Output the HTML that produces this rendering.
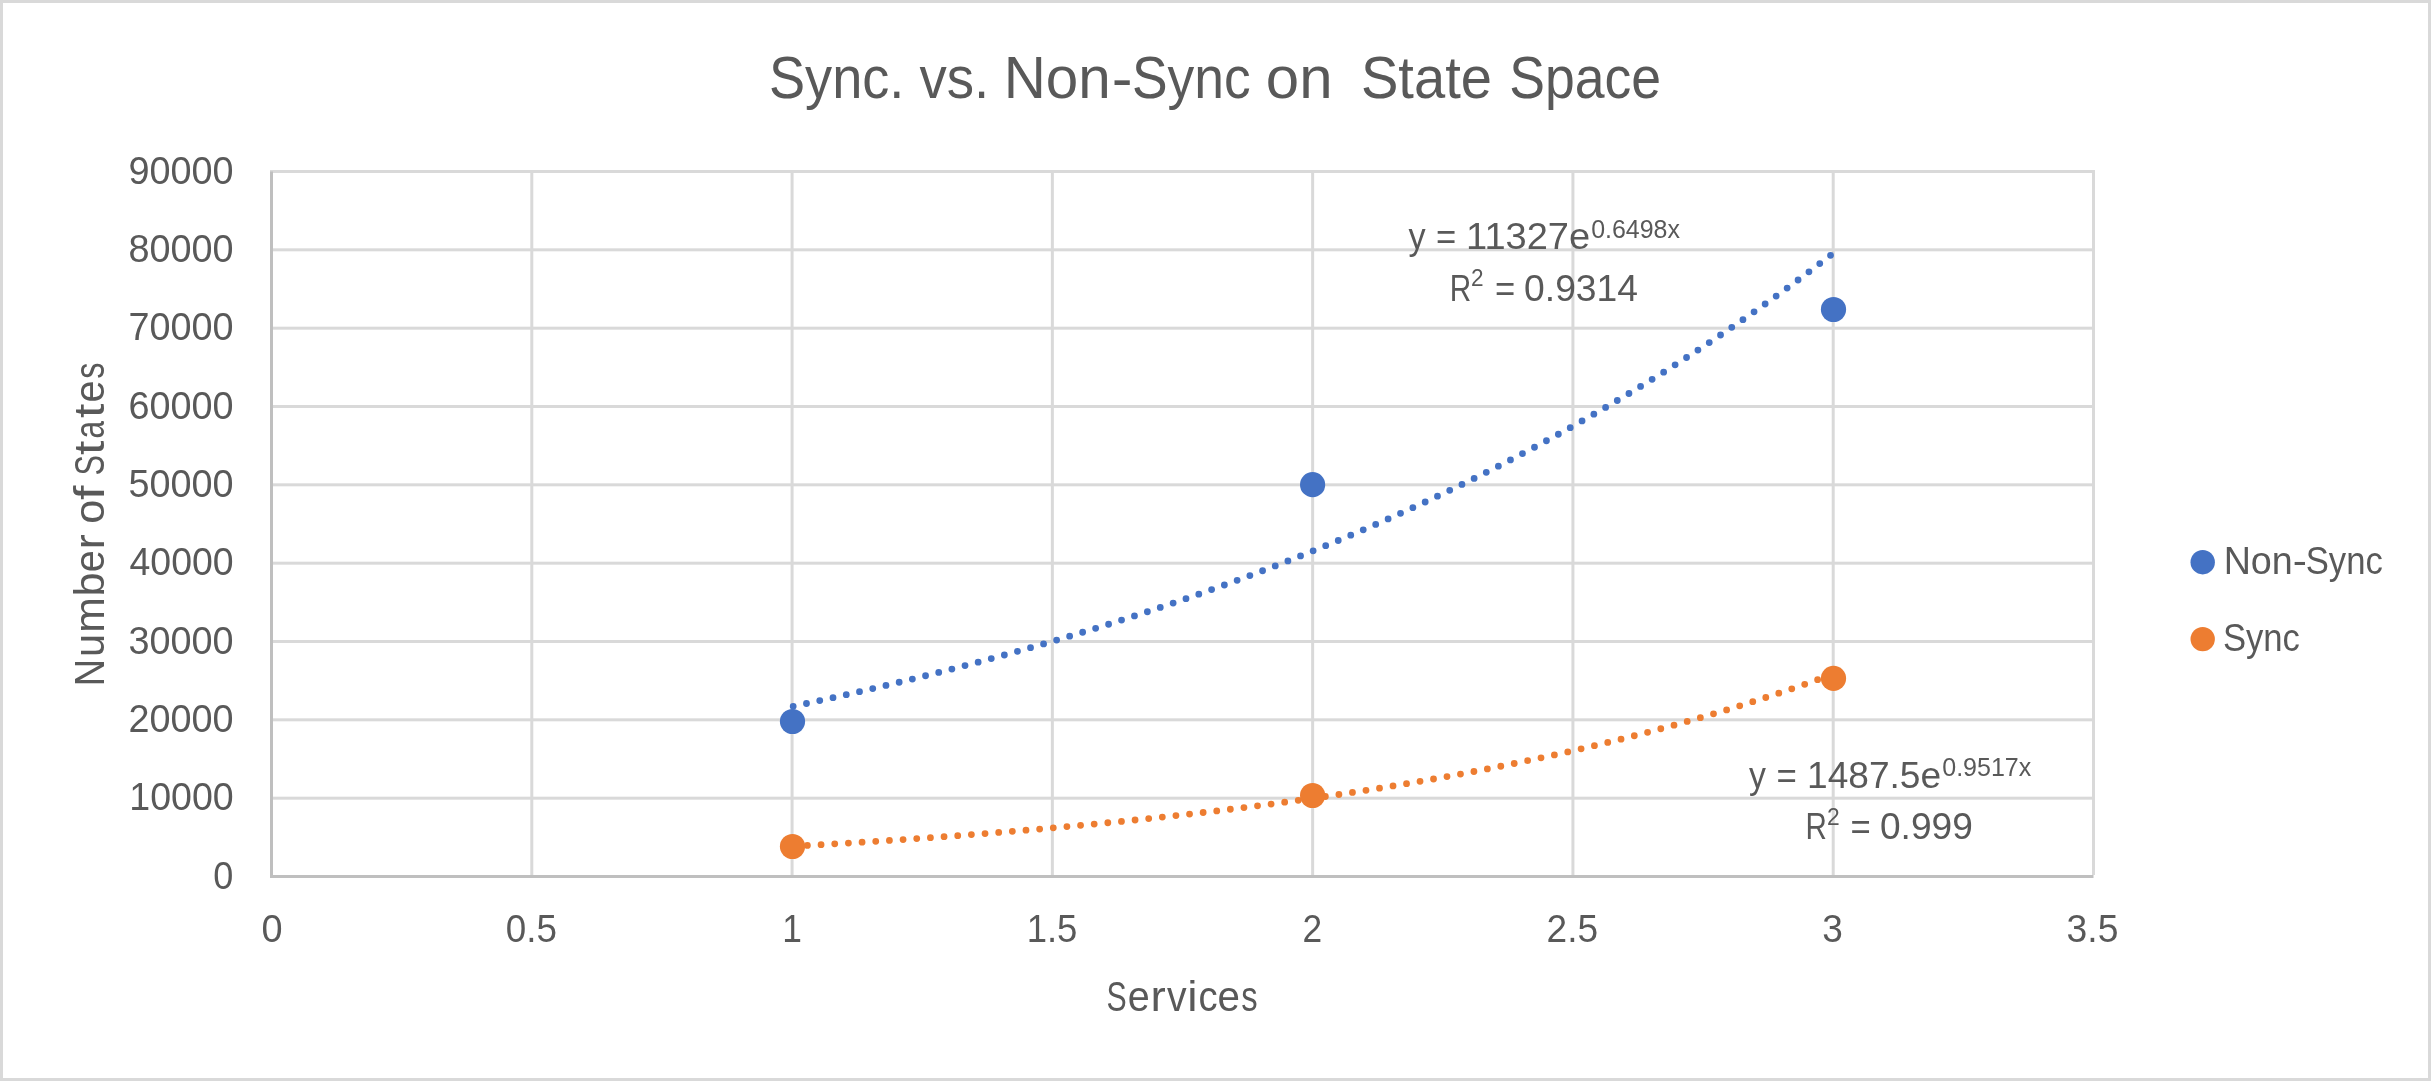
<!DOCTYPE html>
<html><head><meta charset="utf-8"><title>Sync. vs. Non-Sync on State Space</title>
<style>html,body{margin:0;padding:0;background:#fff;overflow:hidden;width:2431px;height:1081px}svg{display:block}text{font-family:"Liberation Sans",sans-serif;fill:#595959;white-space:pre}</style></head>
<body><svg width="2431" height="1081" viewBox="0 0 2431 1081">
<rect x="1.5" y="1.5" width="2428" height="1078" fill="#fff" stroke="#D9D9D9" stroke-width="3"/>
<rect x="270.0" y="796.67" width="1823.5" height="3" fill="#D9D9D9"/>
<rect x="270.0" y="718.33" width="1823.5" height="3" fill="#D9D9D9"/>
<rect x="270.0" y="640.00" width="1823.5" height="3" fill="#D9D9D9"/>
<rect x="270.0" y="561.67" width="1823.5" height="3" fill="#D9D9D9"/>
<rect x="270.0" y="483.33" width="1823.5" height="3" fill="#D9D9D9"/>
<rect x="270.0" y="405.00" width="1823.5" height="3" fill="#D9D9D9"/>
<rect x="270.0" y="326.67" width="1823.5" height="3" fill="#D9D9D9"/>
<rect x="270.0" y="248.33" width="1823.5" height="3" fill="#D9D9D9"/>
<rect x="270.0" y="170.00" width="1823.5" height="3" fill="#D9D9D9"/>
<rect x="530.29" y="170.0" width="3" height="705.0" fill="#D9D9D9"/>
<rect x="790.57" y="170.0" width="3" height="705.0" fill="#D9D9D9"/>
<rect x="1050.86" y="170.0" width="3" height="705.0" fill="#D9D9D9"/>
<rect x="1311.14" y="170.0" width="3" height="705.0" fill="#D9D9D9"/>
<rect x="1571.43" y="170.0" width="3" height="705.0" fill="#D9D9D9"/>
<rect x="1831.71" y="170.0" width="3" height="705.0" fill="#D9D9D9"/>
<rect x="2092.00" y="170.0" width="3" height="705.0" fill="#D9D9D9"/>
<rect x="270.0" y="171.5" width="3" height="706.5" fill="#BFBFBF"/>
<rect x="270.0" y="875.0" width="1823.5" height="3" fill="#BFBFBF"/>
<path d="M792.07,706.57 L796.41,705.65 L800.75,704.72 L805.09,703.79 L809.42,702.85 L813.76,701.91 L818.10,700.96 L822.44,700.01 L826.78,699.05 L831.11,698.08 L835.45,697.12 L839.79,696.14 L844.13,695.16 L848.47,694.18 L852.80,693.19 L857.14,692.19 L861.48,691.19 L865.82,690.19 L870.16,689.17 L874.50,688.16 L878.83,687.13 L883.17,686.11 L887.51,685.07 L891.85,684.03 L896.19,682.99 L900.52,681.94 L904.86,680.88 L909.20,679.82 L913.54,678.75 L917.88,677.68 L922.21,676.60 L926.55,675.51 L930.89,674.42 L935.23,673.32 L939.57,672.22 L943.90,671.11 L948.24,670.00 L952.58,668.88 L956.92,667.75 L961.26,666.61 L965.60,665.47 L969.93,664.33 L974.27,663.18 L978.61,662.02 L982.95,660.85 L987.29,659.68 L991.62,658.51 L995.96,657.32 L1000.30,656.13 L1004.64,654.94 L1008.98,653.73 L1013.31,652.52 L1017.65,651.31 L1021.99,650.08 L1026.33,648.86 L1030.67,647.62 L1035.00,646.38 L1039.34,645.13 L1043.68,643.87 L1048.02,642.61 L1052.36,641.34 L1056.70,640.06 L1061.03,638.78 L1065.37,637.49 L1069.71,636.19 L1074.05,634.88 L1078.39,633.57 L1082.72,632.25 L1087.06,630.93 L1091.40,629.59 L1095.74,628.25 L1100.08,626.90 L1104.41,625.55 L1108.75,624.19 L1113.09,622.82 L1117.43,621.44 L1121.77,620.05 L1126.10,618.66 L1130.44,617.26 L1134.78,615.85 L1139.12,614.44 L1143.46,613.02 L1147.80,611.59 L1152.13,610.15 L1156.47,608.70 L1160.81,607.25 L1165.15,605.78 L1169.49,604.31 L1173.82,602.84 L1178.16,601.35 L1182.50,599.86 L1186.84,598.36 L1191.18,596.84 L1195.51,595.33 L1199.85,593.80 L1204.19,592.26 L1208.53,590.72 L1212.87,589.17 L1217.20,587.61 L1221.54,586.04 L1225.88,584.46 L1230.22,582.88 L1234.56,581.28 L1238.90,579.68 L1243.23,578.07 L1247.57,576.45 L1251.91,574.82 L1256.25,573.18 L1260.59,571.53 L1264.92,569.88 L1269.26,568.21 L1273.60,566.54 L1277.94,564.86 L1282.28,563.17 L1286.61,561.46 L1290.95,559.75 L1295.29,558.03 L1299.63,556.30 L1303.97,554.57 L1308.30,552.82 L1312.64,551.06 L1316.98,549.29 L1321.32,547.52 L1325.66,545.73 L1330.00,543.93 L1334.33,542.13 L1338.67,540.31 L1343.01,538.49 L1347.35,536.65 L1351.69,534.81 L1356.02,532.95 L1360.36,531.09 L1364.70,529.21 L1369.04,527.33 L1373.38,525.43 L1377.71,523.52 L1382.05,521.61 L1386.39,519.68 L1390.73,517.74 L1395.07,515.79 L1399.40,513.84 L1403.74,511.87 L1408.08,509.89 L1412.42,507.90 L1416.76,505.89 L1421.10,503.88 L1425.43,501.86 L1429.77,499.83 L1434.11,497.78 L1438.45,495.72 L1442.79,493.66 L1447.12,491.58 L1451.46,489.49 L1455.80,487.39 L1460.14,485.27 L1464.48,483.15 L1468.81,481.01 L1473.15,478.87 L1477.49,476.71 L1481.83,474.54 L1486.17,472.35 L1490.50,470.16 L1494.84,467.95 L1499.18,465.73 L1503.52,463.50 L1507.86,461.26 L1512.20,459.01 L1516.53,456.74 L1520.87,454.46 L1525.21,452.17 L1529.55,449.87 L1533.89,447.55 L1538.22,445.22 L1542.56,442.88 L1546.90,440.52 L1551.24,438.16 L1555.58,435.78 L1559.91,433.38 L1564.25,430.98 L1568.59,428.56 L1572.93,426.13 L1577.27,423.68 L1581.60,421.22 L1585.94,418.75 L1590.28,416.26 L1594.62,413.77 L1598.96,411.25 L1603.30,408.73 L1607.63,406.19 L1611.97,403.63 L1616.31,401.07 L1620.65,398.48 L1624.99,395.89 L1629.32,393.28 L1633.66,390.66 L1638.00,388.02 L1642.34,385.37 L1646.68,382.70 L1651.01,380.02 L1655.35,377.32 L1659.69,374.61 L1664.03,371.89 L1668.37,369.15 L1672.70,366.39 L1677.04,363.62 L1681.38,360.84 L1685.72,358.04 L1690.06,355.22 L1694.40,352.39 L1698.73,349.55 L1703.07,346.69 L1707.41,343.81 L1711.75,340.92 L1716.09,338.01 L1720.42,335.08 L1724.76,332.14 L1729.10,329.19 L1733.44,326.22 L1737.78,323.23 L1742.11,320.23 L1746.45,317.20 L1750.79,314.17 L1755.13,311.11 L1759.47,308.04 L1763.80,304.96 L1768.14,301.86 L1772.48,298.73 L1776.82,295.60 L1781.16,292.44 L1785.50,289.27 L1789.83,286.08 L1794.17,282.88 L1798.51,279.66 L1802.85,276.41 L1807.19,273.16 L1811.52,269.88 L1815.86,266.59 L1820.20,263.27 L1824.54,259.95 L1828.88,256.60 L1833.21,253.23" fill="none" stroke="#4472C4" stroke-width="6.8" stroke-linecap="round" stroke-dasharray="0 13.585" stroke-dashoffset="-1.143"/>
<path d="M792.07,846.32 L796.41,846.08 L800.75,845.84 L805.09,845.59 L809.42,845.35 L813.76,845.10 L818.10,844.85 L822.44,844.60 L826.78,844.34 L831.11,844.09 L835.45,843.83 L839.79,843.57 L844.13,843.31 L848.47,843.04 L852.80,842.78 L857.14,842.51 L861.48,842.24 L865.82,841.96 L870.16,841.69 L874.50,841.41 L878.83,841.13 L883.17,840.85 L887.51,840.57 L891.85,840.28 L896.19,839.99 L900.52,839.70 L904.86,839.41 L909.20,839.11 L913.54,838.82 L917.88,838.52 L922.21,838.21 L926.55,837.91 L930.89,837.60 L935.23,837.29 L939.57,836.98 L943.90,836.66 L948.24,836.35 L952.58,836.03 L956.92,835.71 L961.26,835.38 L965.60,835.05 L969.93,834.72 L974.27,834.39 L978.61,834.05 L982.95,833.72 L987.29,833.38 L991.62,833.03 L995.96,832.69 L1000.30,832.34 L1004.64,831.99 L1008.98,831.63 L1013.31,831.27 L1017.65,830.91 L1021.99,830.55 L1026.33,830.19 L1030.67,829.82 L1035.00,829.45 L1039.34,829.07 L1043.68,828.69 L1048.02,828.31 L1052.36,827.93 L1056.70,827.54 L1061.03,827.15 L1065.37,826.76 L1069.71,826.36 L1074.05,825.96 L1078.39,825.56 L1082.72,825.16 L1087.06,824.75 L1091.40,824.33 L1095.74,823.92 L1100.08,823.50 L1104.41,823.08 L1108.75,822.65 L1113.09,822.22 L1117.43,821.79 L1121.77,821.36 L1126.10,820.92 L1130.44,820.48 L1134.78,820.03 L1139.12,819.58 L1143.46,819.13 L1147.80,818.67 L1152.13,818.21 L1156.47,817.75 L1160.81,817.28 L1165.15,816.81 L1169.49,816.33 L1173.82,815.85 L1178.16,815.37 L1182.50,814.88 L1186.84,814.39 L1191.18,813.90 L1195.51,813.40 L1199.85,812.90 L1204.19,812.39 L1208.53,811.88 L1212.87,811.36 L1217.20,810.85 L1221.54,810.32 L1225.88,809.80 L1230.22,809.26 L1234.56,808.73 L1238.90,808.19 L1243.23,807.65 L1247.57,807.10 L1251.91,806.54 L1256.25,805.99 L1260.59,805.43 L1264.92,804.86 L1269.26,804.29 L1273.60,803.72 L1277.94,803.14 L1282.28,802.55 L1286.61,801.96 L1290.95,801.37 L1295.29,800.77 L1299.63,800.17 L1303.97,799.56 L1308.30,798.95 L1312.64,798.33 L1316.98,797.71 L1321.32,797.08 L1325.66,796.45 L1330.00,795.81 L1334.33,795.17 L1338.67,794.52 L1343.01,793.87 L1347.35,793.21 L1351.69,792.55 L1356.02,791.88 L1360.36,791.20 L1364.70,790.53 L1369.04,789.84 L1373.38,789.15 L1377.71,788.46 L1382.05,787.75 L1386.39,787.05 L1390.73,786.34 L1395.07,785.62 L1399.40,784.89 L1403.74,784.16 L1408.08,783.43 L1412.42,782.69 L1416.76,781.94 L1421.10,781.19 L1425.43,780.43 L1429.77,779.66 L1434.11,778.89 L1438.45,778.12 L1442.79,777.33 L1447.12,776.54 L1451.46,775.75 L1455.80,774.94 L1460.14,774.14 L1464.48,773.32 L1468.81,772.50 L1473.15,771.67 L1477.49,770.84 L1481.83,770.00 L1486.17,769.15 L1490.50,768.29 L1494.84,767.43 L1499.18,766.56 L1503.52,765.69 L1507.86,764.80 L1512.20,763.92 L1516.53,763.02 L1520.87,762.12 L1525.21,761.20 L1529.55,760.29 L1533.89,759.36 L1538.22,758.43 L1542.56,757.49 L1546.90,756.54 L1551.24,755.59 L1555.58,754.62 L1559.91,753.65 L1564.25,752.67 L1568.59,751.69 L1572.93,750.69 L1577.27,749.69 L1581.60,748.68 L1585.94,747.67 L1590.28,746.64 L1594.62,745.61 L1598.96,744.56 L1603.30,743.51 L1607.63,742.45 L1611.97,741.39 L1616.31,740.31 L1620.65,739.23 L1624.99,738.13 L1629.32,737.03 L1633.66,735.92 L1638.00,734.80 L1642.34,733.67 L1646.68,732.54 L1651.01,731.39 L1655.35,730.23 L1659.69,729.07 L1664.03,727.90 L1668.37,726.71 L1672.70,725.52 L1677.04,724.32 L1681.38,723.11 L1685.72,721.89 L1690.06,720.65 L1694.40,719.41 L1698.73,718.16 L1703.07,716.90 L1707.41,715.63 L1711.75,714.35 L1716.09,713.06 L1720.42,711.76 L1724.76,710.45 L1729.10,709.12 L1733.44,707.79 L1737.78,706.45 L1742.11,705.09 L1746.45,703.73 L1750.79,702.35 L1755.13,700.97 L1759.47,699.57 L1763.80,698.16 L1768.14,696.74 L1772.48,695.31 L1776.82,693.87 L1781.16,692.41 L1785.50,690.95 L1789.83,689.47 L1794.17,687.98 L1798.51,686.48 L1802.85,684.97 L1807.19,683.44 L1811.52,681.90 L1815.86,680.35 L1820.20,678.79 L1824.54,677.22 L1828.88,675.63 L1833.21,674.03" fill="none" stroke="#ED7D31" stroke-width="6.8" stroke-linecap="round" stroke-dasharray="0 13.696" stroke-dashoffset="-1.65"/>
<circle cx="792.5" cy="721.5" r="12.6" fill="#4472C4"/>
<circle cx="1312.6" cy="484.7" r="12.6" fill="#4472C4"/>
<circle cx="1833.5" cy="309.5" r="12.6" fill="#4472C4"/>
<circle cx="792.5" cy="846.5" r="12.6" fill="#ED7D31"/>
<circle cx="1312.6" cy="795.5" r="12.6" fill="#ED7D31"/>
<circle cx="1833.5" cy="678.4" r="12.6" fill="#ED7D31"/>
<circle cx="2202.7" cy="562.2" r="12.2" fill="#4472C4"/>
<circle cx="2202.7" cy="639.1" r="12.2" fill="#ED7D31"/>
<g style="will-change:transform">
<text x="768.95" y="97.90" font-size="59" textLength="135.46" lengthAdjust="spacingAndGlyphs">Sync.</text>
<text x="919.50" y="97.90" font-size="59" textLength="69.70" lengthAdjust="spacingAndGlyphs">vs.</text>
<text x="1003.65" y="97.90" font-size="59" textLength="107.04" lengthAdjust="spacingAndGlyphs">Non</text>
<text x="1111.83" y="97.90" font-size="59" textLength="20.78" lengthAdjust="spacingAndGlyphs">-</text>
<text x="1131.88" y="97.90" font-size="59" textLength="118.78" lengthAdjust="spacingAndGlyphs">Sync</text>
<text x="1265.87" y="97.90" font-size="59" textLength="66.73" lengthAdjust="spacingAndGlyphs">on</text>
<text x="1360.95" y="97.90" font-size="59" textLength="130.98" lengthAdjust="spacingAndGlyphs">State</text>
<text x="1509.18" y="97.90" font-size="59" textLength="151.91" lengthAdjust="spacingAndGlyphs">Space</text>
<text x="213.16" y="888.80" font-size="38.5" textLength="20.07" lengthAdjust="spacingAndGlyphs">0</text>
<text x="129.27" y="810.47" font-size="38.5" textLength="104.46" lengthAdjust="spacingAndGlyphs">10000</text>
<text x="128.54" y="732.13" font-size="38.5" textLength="105.11" lengthAdjust="spacingAndGlyphs">20000</text>
<text x="128.54" y="653.80" font-size="38.5" textLength="105.11" lengthAdjust="spacingAndGlyphs">30000</text>
<text x="129.53" y="575.47" font-size="38.5" textLength="104.11" lengthAdjust="spacingAndGlyphs">40000</text>
<text x="128.54" y="497.13" font-size="38.5" textLength="105.11" lengthAdjust="spacingAndGlyphs">50000</text>
<text x="128.54" y="418.80" font-size="38.5" textLength="105.11" lengthAdjust="spacingAndGlyphs">60000</text>
<text x="128.54" y="340.47" font-size="38.5" textLength="105.11" lengthAdjust="spacingAndGlyphs">70000</text>
<text x="128.54" y="262.13" font-size="38.5" textLength="105.11" lengthAdjust="spacingAndGlyphs">80000</text>
<text x="128.54" y="183.80" font-size="38.5" textLength="105.11" lengthAdjust="spacingAndGlyphs">90000</text>
<text x="261.52" y="941.60" font-size="38.5" textLength="21.08" lengthAdjust="spacingAndGlyphs">0</text>
<text x="505.75" y="941.60" font-size="38.5" textLength="51.12" lengthAdjust="spacingAndGlyphs">0.5</text>
<text x="782.25" y="941.60" font-size="38.5" textLength="19.66" lengthAdjust="spacingAndGlyphs">1</text>
<text x="1026.66" y="941.60" font-size="38.5" textLength="50.69" lengthAdjust="spacingAndGlyphs">1.5</text>
<text x="1302.47" y="941.60" font-size="38.5" textLength="19.64" lengthAdjust="spacingAndGlyphs">2</text>
<text x="1546.58" y="941.60" font-size="38.5" textLength="51.50" lengthAdjust="spacingAndGlyphs">2.5</text>
<text x="1822.28" y="941.60" font-size="38.5" textLength="20.59" lengthAdjust="spacingAndGlyphs">3</text>
<text x="2066.56" y="941.60" font-size="38.5" textLength="51.82" lengthAdjust="spacingAndGlyphs">3.5</text>
<text x="1106.57" y="1011.00" font-size="43" textLength="20.17" lengthAdjust="spacingAndGlyphs">S</text>
<text x="1127.63" y="1011.00" font-size="43" textLength="21.97" lengthAdjust="spacingAndGlyphs">e</text>
<text x="1150.50" y="1011.00" font-size="43" textLength="15.27" lengthAdjust="spacingAndGlyphs">r</text>
<text x="1166.98" y="1011.00" font-size="43" textLength="19.61" lengthAdjust="spacingAndGlyphs">v</text>
<text x="1187.21" y="1011.00" font-size="43" textLength="10.28" lengthAdjust="spacingAndGlyphs">i</text>
<text x="1198.42" y="1011.00" font-size="43" textLength="19.13" lengthAdjust="spacingAndGlyphs">c</text>
<text x="1217.47" y="1011.00" font-size="43" textLength="22.43" lengthAdjust="spacingAndGlyphs">e</text>
<text x="1241.25" y="1011.00" font-size="43" textLength="16.36" lengthAdjust="spacingAndGlyphs">s</text>
<text x="-686.34" y="103.70" font-size="43" textLength="27.34" lengthAdjust="spacingAndGlyphs" transform="rotate(-90)">N</text>
<text x="-657.10" y="103.70" font-size="43" textLength="23.12" lengthAdjust="spacingAndGlyphs" transform="rotate(-90)">u</text>
<text x="-632.87" y="103.70" font-size="43" textLength="35.47" lengthAdjust="spacingAndGlyphs" transform="rotate(-90)">m</text>
<text x="-596.52" y="103.70" font-size="43" textLength="24.05" lengthAdjust="spacingAndGlyphs" transform="rotate(-90)">b</text>
<text x="-572.25" y="103.70" font-size="43" textLength="22.13" lengthAdjust="spacingAndGlyphs" transform="rotate(-90)">e</text>
<text x="-549.24" y="103.70" font-size="43" textLength="14.98" lengthAdjust="spacingAndGlyphs" transform="rotate(-90)">r</text>
<text x="-523.82" y="103.70" font-size="43" textLength="24.16" lengthAdjust="spacingAndGlyphs" transform="rotate(-90)">o</text>
<text x="-499.91" y="103.70" font-size="43" textLength="14.45" lengthAdjust="spacingAndGlyphs" transform="rotate(-90)">f</text>
<text x="-475.53" y="103.70" font-size="43" textLength="20.54" lengthAdjust="spacingAndGlyphs" transform="rotate(-90)">S</text>
<text x="-455.11" y="103.70" font-size="43" textLength="14.45" lengthAdjust="spacingAndGlyphs" transform="rotate(-90)">t</text>
<text x="-438.57" y="103.70" font-size="43" textLength="17.62" lengthAdjust="spacingAndGlyphs" transform="rotate(-90)">a</text>
<text x="-418.11" y="103.70" font-size="43" textLength="14.45" lengthAdjust="spacingAndGlyphs" transform="rotate(-90)">t</text>
<text x="-402.55" y="103.70" font-size="43" textLength="22.13" lengthAdjust="spacingAndGlyphs" transform="rotate(-90)">e</text>
<text x="-378.86" y="103.70" font-size="43" textLength="16.29" lengthAdjust="spacingAndGlyphs" transform="rotate(-90)">s</text>
<text x="2223.64" y="573.80" font-size="38.2" textLength="69.09" lengthAdjust="spacingAndGlyphs">Non</text>
<text x="2292.78" y="573.80" font-size="38.2" textLength="14.13" lengthAdjust="spacingAndGlyphs">-</text>
<text x="2305.68" y="573.80" font-size="38.2" textLength="77.14" lengthAdjust="spacingAndGlyphs">Sync</text>
<text x="2222.89" y="651.30" font-size="38.2" textLength="77.04" lengthAdjust="spacingAndGlyphs">Sync</text>
<text x="1408.50" y="249.40" font-size="37.8" textLength="17.12" lengthAdjust="spacingAndGlyphs">y</text>
<text x="1435.97" y="249.40" font-size="37.8" textLength="20.24" lengthAdjust="spacingAndGlyphs">=</text>
<text x="1466.08" y="249.40" font-size="37.8" textLength="124.05" lengthAdjust="spacingAndGlyphs">11327e</text>
<text x="1591.14" y="238.00" font-size="26" textLength="88.87" lengthAdjust="spacingAndGlyphs">0.6498x</text>
<text x="1449.74" y="300.60" font-size="37.8" textLength="21.47" lengthAdjust="spacingAndGlyphs">R</text>
<text x="1494.97" y="300.60" font-size="37.8" textLength="20.24" lengthAdjust="spacingAndGlyphs">=</text>
<text x="1524.11" y="300.60" font-size="37.8" textLength="113.89" lengthAdjust="spacingAndGlyphs">0.9314</text>
<text x="1471.12" y="286.20" font-size="23" textLength="12.56" lengthAdjust="spacingAndGlyphs">2</text>
<text x="1749.10" y="788.00" font-size="37.8" textLength="16.92" lengthAdjust="spacingAndGlyphs">y</text>
<text x="1776.56" y="788.00" font-size="37.8" textLength="20.36" lengthAdjust="spacingAndGlyphs">=</text>
<text x="1807.06" y="788.00" font-size="37.8" textLength="134.05" lengthAdjust="spacingAndGlyphs">1487.5e</text>
<text x="1942.24" y="775.80" font-size="26" textLength="89.07" lengthAdjust="spacingAndGlyphs">0.9517x</text>
<text x="1805.55" y="839.10" font-size="37.8" textLength="21.34" lengthAdjust="spacingAndGlyphs">R</text>
<text x="1850.57" y="839.10" font-size="37.8" textLength="20.24" lengthAdjust="spacingAndGlyphs">=</text>
<text x="1880.02" y="839.10" font-size="37.8" textLength="92.74" lengthAdjust="spacingAndGlyphs">0.999</text>
<text x="1827.01" y="825.00" font-size="23" textLength="12.68" lengthAdjust="spacingAndGlyphs">2</text>
</g>
</svg></body></html>
